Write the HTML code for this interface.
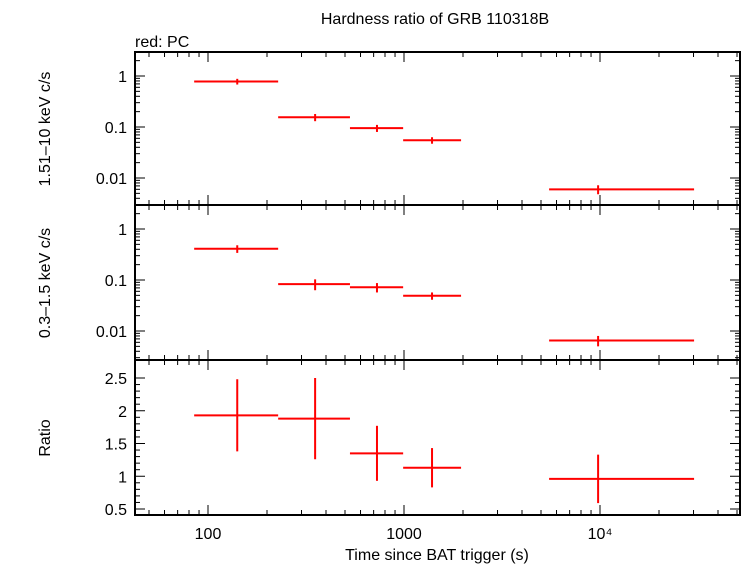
<!DOCTYPE html>
<html><head><meta charset="utf-8"><style>
body{margin:0;background:#fff;width:742px;height:566px;overflow:hidden}
svg{font-family:"Liberation Sans",sans-serif}
</style></head><body>
<svg id="c" width="742" height="566">
<text x="435" y="24" font-size="16" text-anchor="middle">Hardness ratio of GRB 110318B</text>
<text x="135" y="47" font-size="16">red: PC</text>
<text x="437" y="560" font-size="16" text-anchor="middle">Time since BAT trigger (s)</text>
<text transform="translate(50,129) rotate(-90)" font-size="16" text-anchor="middle">1.51–10 keV c/s</text>
<text transform="translate(50,283) rotate(-90)" font-size="16" text-anchor="middle">0.3–1.5 keV c/s</text>
<text transform="translate(50,438) rotate(-90)" font-size="16" text-anchor="middle">Ratio</text>
</svg>
<script>
const binLo=[85,228,530,990,5500];
const binHi=[228,530,990,1955,30200];
const binMid=[141,352,728,1390,9780];
const hard=[0.78,0.155,0.095,0.055,0.006];
const hardErr=[0.1,0.025,0.015,0.008,0.0012];
const soft=[0.41,0.083,0.072,0.049,0.0065];
const softErr=[0.07,0.02,0.015,0.008,0.0015];
const ratio=[1.93,1.88,1.35,1.13,0.96];
const ratioErr=[0.55,0.62,0.42,0.3,0.37];
const xTicks=[100,1000,10000];
const xTickLabels=["100","1000","10⁴"];
const logTickVals=[1,0.1,0.01];
const logTickLabels=["1","0.1","0.01"];
const ratioTicks=[0.5,1,1.5,2,2.5];
const ratioTickLabels=["0.5","1","1.5","2","2.5"];

const svg=document.getElementById('c');const NS='http://www.w3.org/2000/svg';
const L=135,R=740;
const xs=v=>208+(Math.log10(v)-2)*196;
function el(t,a,name){const e=document.createElementNS(NS,t);for(const k in a)e.setAttribute(k,a[k]);


svg.appendChild(e);return e;}
const panels=[{top:52,bot:205,ys:v=>76-Math.log10(v)*51,log:true,name:'hard'},
{top:205,bot:360,ys:v=>229-Math.log10(v)*51,log:true,name:'soft'},
{top:360,bot:515,ys:v=>378+(2.5-v)*65.5,log:false,name:'ratio'}];
panels.forEach((p,pi)=>{
 el('rect',{x:L,y:p.top,width:R-L,height:p.bot-p.top,fill:'none',stroke:'#000','stroke-width':2},'panel-frame-'+p.name);
 for(let d=1;d<=4;d++)for(let m=1;m<10;m++){const v=m*Math.pow(10,d);const x=xs(v);if(x<=L||x>=R)continue;
  const len=m==1?10:5;
  el('line',{x1:x,x2:x,y1:p.bot,y2:p.bot-len,stroke:'#000','stroke-width':1},'x-tick');
  el('line',{x1:x,x2:x,y1:p.top,y2:p.top+len,stroke:'#000','stroke-width':1},'x-tick');}
 if(p.log){
  for(let d=-3;d<=0;d++)for(let m=1;m<10;m++){const v=m*Math.pow(10,d);const y=p.ys(v);if(y<=p.top||y>=p.bot)continue;
   const len=m==1?10:5;
   el('line',{x1:L,x2:L+len,y1:y,y2:y,stroke:'#000'},'y-tick');
   el('line',{x1:R,x2:R-len,y1:y,y2:y,stroke:'#000'},'y-tick');}
  logTickVals.forEach((v,i)=>{const t=el('text',{x:L-8,y:p.ys(v)+6,'font-size':16,'text-anchor':'end'},'y-tick-label');t.textContent=logTickLabels[i];});
 }else{
  for(let v=0.5;v<=2.5001;v+=0.1){const y=p.ys(v);const major=Math.abs(v*2-Math.round(v*2))<1e-6;const len=major?10:5;
   el('line',{x1:L,x2:L+len,y1:y,y2:y,stroke:'#000'},'y-tick');
   el('line',{x1:R,x2:R-len,y1:y,y2:y,stroke:'#000'},'y-tick');}
  ratioTicks.forEach((v,i)=>{const t=el('text',{x:L-8,y:p.ys(v)+6,'font-size':16,'text-anchor':'end'},'y-tick-label');t.textContent=ratioTickLabels[i];});
 }
 const vals=[hard,soft,ratio][pi],errs=[hardErr,softErr,ratioErr][pi];
 vals.forEach((v,i)=>{
  el('line',{x1:xs(binLo[i]),x2:xs(binHi[i]),y1:p.ys(v),y2:p.ys(v),stroke:'#f00','stroke-width':2},'data-bar-'+p.name);
  el('line',{x1:xs(binMid[i]),x2:xs(binMid[i]),y1:p.ys(v-errs[i]),y2:p.ys(v+errs[i]),stroke:'#f00','stroke-width':2},'error-bar-'+p.name);
 });
});
xTicks.forEach((v,i)=>{const t=el('text',{x:xs(v),y:539,'font-size':16,'text-anchor':'middle'},'x-tick-label');t.textContent=xTickLabels[i];});
</script>
</body></html>
